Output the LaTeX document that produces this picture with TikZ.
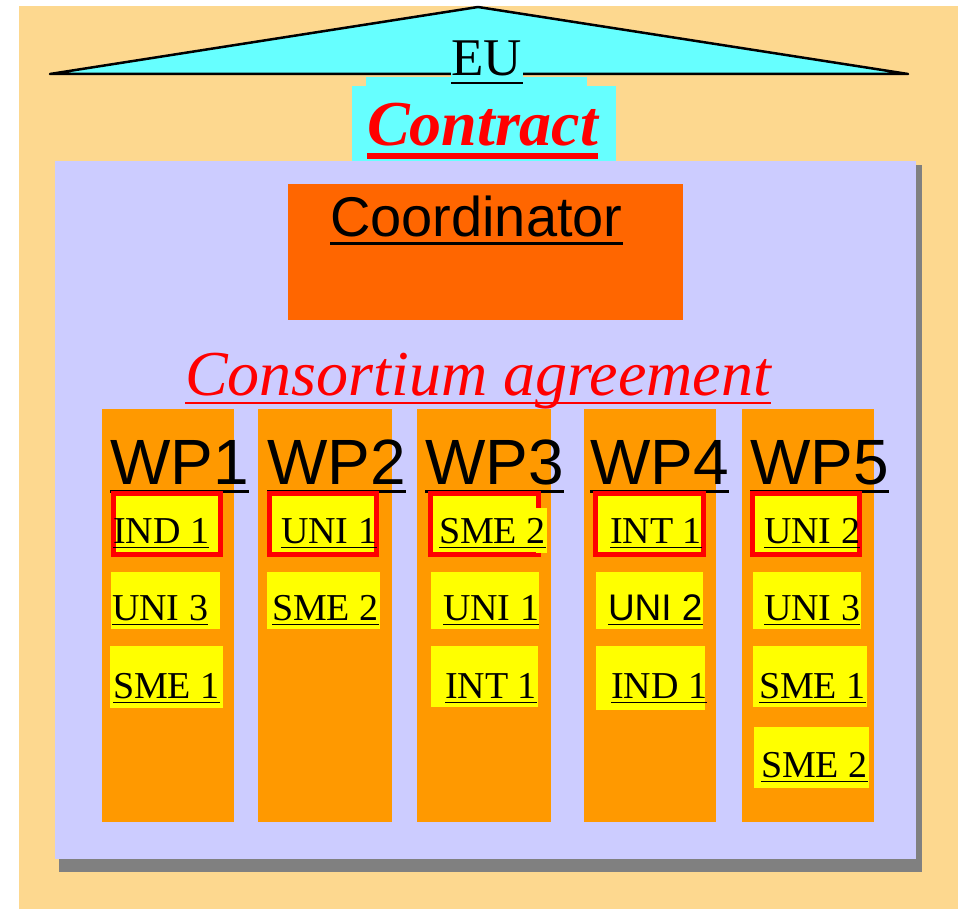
\documentclass[tikz,border=0pt]{standalone}
\usepackage{fontspec}
\setmainfont{Liberation Serif}
\setsansfont{Liberation Sans}
\definecolor{bgtan}{RGB}{253,216,143}
\definecolor{euc}{RGB}{102,255,255}
\definecolor{lav}{RGB}{204,204,255}
\definecolor{coord}{RGB}{255,102,0}
\definecolor{wporange}{RGB}{255,153,0}
\definecolor{shadowgray}{RGB}{128,128,128}
\definecolor{ylw}{RGB}{255,255,0}
\definecolor{rd}{RGB}{255,0,0}
\tikzset{
  plainbox/.style={fill=ylw, inner sep=0, outer sep=0},
  redbox/.style={fill=ylw, draw=rd, line width=5pt, inner sep=0, outer sep=0},
  lbl/.style={inner sep=0, outer sep=0, font=\fontsize{38}{40}\selectfont},
  ul/.style={line width=1.8pt},
  area/.style={inner sep=0, outer sep=0, anchor=north west},
  wpcol/.style={area, fill=wporange, minimum height=413},
  wplbl/.style={inner sep=0, outer sep=0, anchor=base west, font=\sffamily\fontsize{64}{70}\selectfont},
  wpul/.style={line width=3pt},
}
\newcommand\wpitem[9]{%
  \node[#2, minimum width={(#5)-(#3)}, minimum height={(#6)-(#4)}, anchor=north west] (#1) at (#3,-#4) {};
  \node[lbl, anchor=base west] (#1t) at (#7,-#8) {#9};
  \draw[ul] ([yshift=-4.5pt]#1t.base west) -- ([yshift=-4.5pt]#1t.base east);
}
\begin{document}
\begin{tikzpicture}[x=1pt,y=1pt]
\useasboundingbox (0,0) rectangle (958,-909);
\fill[white] (0,0) rectangle (958,-909);
\node[area, fill=bgtan, minimum width=939, minimum height=903] (bg) at (19,-6) {};
% roof
\draw[fill=euc, line width=2.5pt, line join=round] (50,-74) -- (478,-7) -- (908,-74) -- cycle;
% contract box
\fill[euc] (366,-77) rectangle (587,-87);
\node[area, fill=euc, minimum width=264, minimum height=75] (cbox) at (352,-86) {};
\node[fill=euc, inner xsep=0.5pt, inner ysep=3pt, outer sep=0, anchor=base west,
      font=\fontsize{53}{56}\selectfont] (eu) at (451,-76) {EU};
\draw[line width=2pt] ([yshift=-7pt]eu.base west) -- ([yshift=-7pt]eu.base east);
\node[inner sep=0, outer sep=0, anchor=base west, text=rd,
      font=\bfseries\itshape\fontsize{64}{70}\selectfont] (contract) at (367,-146) {Contract};
\draw[rd, line width=5.5pt] ([yshift=-10pt]contract.base west) -- ([yshift=-10pt]contract.base east);
% panel
\node[area, fill=shadowgray, minimum width=863, minimum height=707] (shadow) at (59,-165) {};
\node[area, fill=lav, minimum width=861, minimum height=698] (panel) at (55,-161) {};
% coordinator
\node[area, fill=coord, minimum width=395, minimum height=136] (coordbox) at (288,-184) {};
\node[inner sep=0, outer sep=0, anchor=base west, font=\sffamily\fontsize{56}{60}\selectfont] (coordt) at (330,-237) {Coordinator};
\draw[line width=3pt] ([yshift=-7pt]coordt.base west) -- ([yshift=-7pt]coordt.base east);
% consortium agreement
\node[inner sep=0, outer sep=0, anchor=base west, text=rd, font=\itshape\fontsize{64}{70}\selectfont] (ca) at (185,-395) {Consortium agreement};
\draw[rd, line width=2pt] ([yshift=-8pt]ca.base west) -- ([yshift=-8pt]ca.base east);
% columns
\node[wpcol, minimum width=132] (c1) at (102,-409) {};
\node[wpcol, minimum width=134] (c2) at (258,-409) {};
\node[wpcol, minimum width=134] (c3) at (417,-409) {};
\node[wpcol, minimum width=132] (c4) at (584,-409) {};
\node[wpcol, minimum width=132] (c5) at (742,-409) {};
\foreach \n/\x in {1/110,2/267,3/425,4/590,5/750}{
  \node[wplbl] (wp\n) at (\x,-484) {WP\n};
  \draw[wpul] ([yshift=-7pt]wp\n.base west) -- ([yshift=-7pt]wp\n.base east);
}
% WP1
\wpitem{i11}{redbox}{113.5}{493.5}{220.5}{554.5}{113}{543}{IND 1}
\wpitem{i12}{plainbox}{111}{572}{220}{629}{112}{620}{UNI 3}
\wpitem{i13}{plainbox}{110}{646}{223}{708}{113}{698}{SME 1}
% WP2
\wpitem{i21}{redbox}{269.5}{493.5}{376.5}{554.5}{281}{543}{UNI 1}
\wpitem{i22}{plainbox}{267}{572}{380}{629}{272}{620}{SME 2}
% WP3
\node[redbox, minimum width=108, minimum height=61, anchor=north west] (i31) at (430.5,-493.5) {};
\fill[ylw] (536,-508) rectangle (547,-553);
\node[lbl, anchor=base west] (i31t) at (439,-543) {SME 2};
\draw[ul] ([yshift=-4.5pt]i31t.base west) -- ([yshift=-4.5pt]i31t.base east);
\wpitem{i32}{plainbox}{431}{572}{539}{629}{443}{620}{UNI 1}
\wpitem{i33}{plainbox}{431}{646}{538}{707}{445}{698}{INT 1}
% WP4
\wpitem{i41}{redbox}{595.5}{493.5}{703.5}{554.5}{610}{543}{INT 1}
\wpitem{i42}{plainbox}{596}{572}{703}{629}{608}{620}{\sffamily\fontsize{37}{40}\selectfont UNI 2}
\wpitem{i43}{plainbox}{596}{646}{705}{710}{611}{698}{IND 1}
% WP5
\wpitem{i51}{redbox}{752.5}{493.5}{859.5}{554.5}{764}{543}{UNI 2}
\wpitem{i52}{plainbox}{753}{572}{861}{629}{764}{620}{UNI 3}
\wpitem{i53}{plainbox}{753}{646}{867}{707}{759}{698}{SME 1}
\wpitem{i54}{plainbox}{754}{727}{869}{788}{761}{777}{SME 2}
\end{tikzpicture}
\end{document}
